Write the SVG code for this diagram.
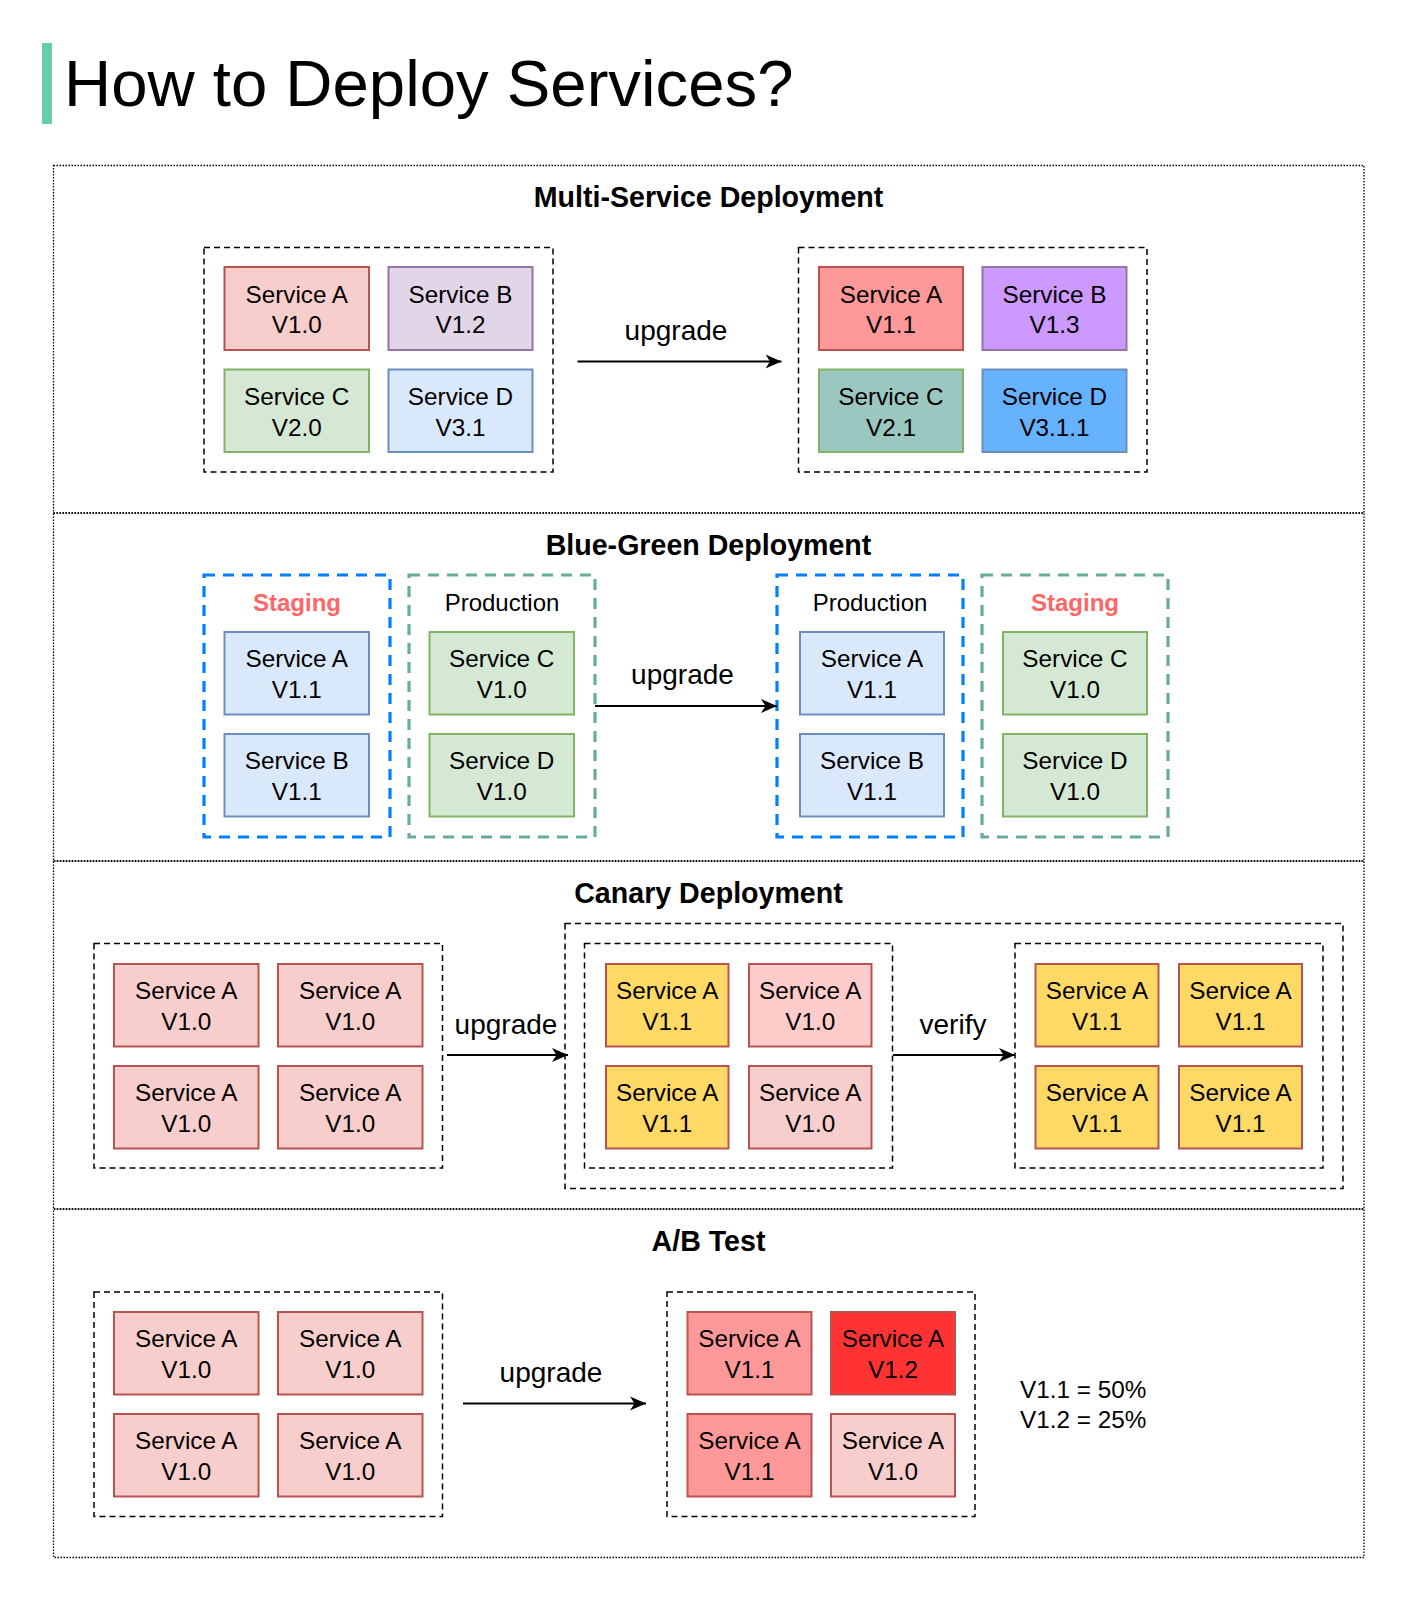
<svg xmlns="http://www.w3.org/2000/svg" width="1406" height="1600" viewBox="0 0 1406 1600">
<defs>
<style>
text{font-family:"Liberation Sans",Arial,Helvetica,sans-serif;fill:#000}
.t{font-size:24.3px;text-anchor:middle}
.lbl{font-size:28px;text-anchor:middle}
.h{font-size:28.6px;font-weight:bold;text-anchor:middle}
.sec{fill:none;stroke:#000;stroke-width:1.3;stroke-dasharray:1.5 1.5}
.grp{fill:none;stroke:#000;stroke-width:1.5;stroke-dasharray:6 4}
.blue{fill:none;stroke:#007FFF;stroke-width:3.2;stroke-dasharray:11 8}
.green{fill:none;stroke:#67AB9F;stroke-width:3.2;stroke-dasharray:11 8}
.b{stroke-width:2}
.ra{fill:#F8CECC;stroke:#B85450}
.ra2{fill:#FF9999;stroke:#B85450}
.ra3{fill:#FF3333;stroke:#B85450}
.ra4{fill:#FFCCCC;stroke:#B85450}
.yl{fill:#FFD966;stroke:#B85450}
.pu{fill:#E1D5E7;stroke:#9673A6}
.pu2{fill:#CC99FF;stroke:#9673A6}
.gr{fill:#D5E8D4;stroke:#82B366}
.gr2{fill:#9AC7BF;stroke:#82B366}
.bl{fill:#DAE8FC;stroke:#6C8EBF}
.bl2{fill:#66B2FF;stroke:#6C8EBF}
.stg{font-size:24px;font-weight:bold;text-anchor:middle;fill:#FF6666}
.prd{font-size:24px;text-anchor:middle}
.edge{fill:none;stroke:#000;stroke-width:2}
</style>
<marker id="arr" markerUnits="userSpaceOnUse" markerWidth="18" markerHeight="16" refX="16" refY="8" orient="auto">
<path d="M0,1 L16,8 L0,15 L4.5,8 Z" fill="#000"/>
</marker>
</defs>
<rect width="1406" height="1600" fill="#fff"/>

<g id="title">
<rect x="42" y="43" width="10" height="81" fill="#67CFA6"/>
<text x="64" y="106" style="font-size:65.3px">How to Deploy Services?</text>
</g>

<g id="sections">
<rect class="sec" x="53.5" y="165.5" width="1310.5" height="347.5"/>
<rect class="sec" x="53.5" y="513" width="1310.5" height="348"/>
<rect class="sec" x="53.5" y="861" width="1310.5" height="348"/>
<rect class="sec" x="53.5" y="1209" width="1310.5" height="348.5"/>
<text class="h" x="708.5" y="207">Multi-Service Deployment</text>
<text class="h" x="708.5" y="555">Blue-Green Deployment</text>
<text class="h" x="708.5" y="903">Canary Deployment</text>
<text class="h" x="708.5" y="1251">A/B Test</text>
</g>

<!-- Section 1 -->
<g id="ms-before">
<rect class="grp" x="204" y="247.5" width="349" height="224.5"/>
<g id="ms-a1"><rect class="b ra" x="224.5" y="267" width="144.5" height="83"/><text class="t" x="296.75" y="302.5">Service A<tspan x="296.75" dy="30.5">V1.0</tspan></text></g>
<g id="ms-b1"><rect class="b pu" x="388.5" y="267" width="144" height="83"/><text class="t" x="460.5" y="302.5">Service B<tspan x="460.5" dy="30.5">V1.2</tspan></text></g>
<g id="ms-c1"><rect class="b gr" x="224.5" y="369.5" width="144.5" height="82.5"/><text class="t" x="296.75" y="405">Service C<tspan x="296.75" dy="30.5">V2.0</tspan></text></g>
<g id="ms-d1"><rect class="b bl" x="388.5" y="369.5" width="144" height="82.5"/><text class="t" x="460.5" y="405">Service D<tspan x="460.5" dy="30.5">V3.1</tspan></text></g>
</g>
<g id="ms-after">
<rect class="grp" x="798.5" y="247.5" width="348.5" height="224.5"/>
<g id="ms-a2"><rect class="b ra2" x="819" y="267" width="144" height="83"/><text class="t" x="891" y="302.5">Service A<tspan x="891" dy="30.5">V1.1</tspan></text></g>
<g id="ms-b2"><rect class="b pu2" x="982.5" y="267" width="144" height="83"/><text class="t" x="1054.5" y="302.5">Service B<tspan x="1054.5" dy="30.5">V1.3</tspan></text></g>
<g id="ms-c2"><rect class="b gr2" x="819" y="369.5" width="144" height="82.5"/><text class="t" x="891" y="405">Service C<tspan x="891" dy="30.5">V2.1</tspan></text></g>
<g id="ms-d2"><rect class="b bl2" x="982.5" y="369.5" width="144" height="82.5"/><text class="t" x="1054.5" y="405">Service D<tspan x="1054.5" dy="30.5">V3.1.1</tspan></text></g>
</g>

<!-- Section 2 -->
<g id="bg-staging1">
<rect class="blue" x="204" y="575" width="186" height="262"/>
<text class="stg" x="297" y="611">Staging</text>
<g id="bg-a1"><rect class="b bl" x="224.5" y="632" width="144.5" height="82.5"/><text class="t" x="296.75" y="667">Service A<tspan x="296.75" dy="30.5">V1.1</tspan></text></g>
<g id="bg-b1"><rect class="b bl" x="224.5" y="734" width="144.5" height="82.5"/><text class="t" x="296.75" y="769">Service B<tspan x="296.75" dy="30.5">V1.1</tspan></text></g>
</g>
<g id="bg-prod1">
<rect class="green" x="409" y="575" width="186" height="262"/>
<text class="prd" x="502" y="611">Production</text>
<g id="bg-c1"><rect class="b gr" x="429.5" y="632" width="144.5" height="82.5"/><text class="t" x="501.75" y="667">Service C<tspan x="501.75" dy="30.5">V1.0</tspan></text></g>
<g id="bg-d1"><rect class="b gr" x="429.5" y="734" width="144.5" height="82.5"/><text class="t" x="501.75" y="769">Service D<tspan x="501.75" dy="30.5">V1.0</tspan></text></g>
</g>
<g id="bg-prod2">
<rect class="blue" x="777" y="575" width="186" height="262"/>
<text class="prd" x="870" y="611">Production</text>
<g id="bg-a2"><rect class="b bl" x="800" y="632" width="144" height="82.5"/><text class="t" x="872" y="667">Service A<tspan x="872" dy="30.5">V1.1</tspan></text></g>
<g id="bg-b2"><rect class="b bl" x="800" y="734" width="144" height="82.5"/><text class="t" x="872" y="769">Service B<tspan x="872" dy="30.5">V1.1</tspan></text></g>
</g>
<g id="bg-staging2">
<rect class="green" x="982" y="575" width="186" height="262"/>
<text class="stg" x="1075" y="611">Staging</text>
<g id="bg-c2"><rect class="b gr" x="1003" y="632" width="144" height="82.5"/><text class="t" x="1075" y="667">Service C<tspan x="1075" dy="30.5">V1.0</tspan></text></g>
<g id="bg-d2"><rect class="b gr" x="1003" y="734" width="144" height="82.5"/><text class="t" x="1075" y="769">Service D<tspan x="1075" dy="30.5">V1.0</tspan></text></g>
</g>

<!-- Section 3 -->
<g id="cn-before">
<rect class="grp" x="94" y="943.5" width="348.5" height="224.5"/>
<g id="cn-1"><rect class="b ra" x="114" y="964" width="144.5" height="82.5"/><text class="t" x="186.25" y="999">Service A<tspan x="186.25" dy="30.5">V1.0</tspan></text></g>
<g id="cn-2"><rect class="b ra" x="278" y="964" width="144.5" height="82.5"/><text class="t" x="350.25" y="999">Service A<tspan x="350.25" dy="30.5">V1.0</tspan></text></g>
<g id="cn-3"><rect class="b ra" x="114" y="1066" width="144.5" height="82.5"/><text class="t" x="186.25" y="1101">Service A<tspan x="186.25" dy="30.5">V1.0</tspan></text></g>
<g id="cn-4"><rect class="b ra" x="278" y="1066" width="144.5" height="82.5"/><text class="t" x="350.25" y="1101">Service A<tspan x="350.25" dy="30.5">V1.0</tspan></text></g>
</g>
<g id="cn-outer">
<rect class="grp" x="565" y="923.5" width="778" height="265"/>
</g>
<g id="cn-mid">
<rect class="grp" x="584.5" y="943.5" width="308" height="224.5"/>
<g id="cn-5"><rect class="b yl" x="606" y="964" width="122.5" height="82.5"/><text class="t" x="667.25" y="999">Service A<tspan x="667.25" dy="30.5">V1.1</tspan></text></g>
<g id="cn-6"><rect class="b ra4" x="749" y="964" width="122.5" height="82.5"/><text class="t" x="810.25" y="999">Service A<tspan x="810.25" dy="30.5">V1.0</tspan></text></g>
<g id="cn-7"><rect class="b yl" x="606" y="1066" width="122.5" height="82.5"/><text class="t" x="667.25" y="1101">Service A<tspan x="667.25" dy="30.5">V1.1</tspan></text></g>
<g id="cn-8"><rect class="b ra" x="749" y="1066" width="122.5" height="82.5"/><text class="t" x="810.25" y="1101">Service A<tspan x="810.25" dy="30.5">V1.0</tspan></text></g>
</g>
<g id="cn-after">
<rect class="grp" x="1015" y="943.5" width="308" height="224.5"/>
<g id="cn-9"><rect class="b yl" x="1035.5" y="964" width="123" height="82.5"/><text class="t" x="1097" y="999">Service A<tspan x="1097" dy="30.5">V1.1</tspan></text></g>
<g id="cn-10"><rect class="b yl" x="1179" y="964" width="123" height="82.5"/><text class="t" x="1240.5" y="999">Service A<tspan x="1240.5" dy="30.5">V1.1</tspan></text></g>
<g id="cn-11"><rect class="b yl" x="1035.5" y="1066" width="123" height="82.5"/><text class="t" x="1097" y="1101">Service A<tspan x="1097" dy="30.5">V1.1</tspan></text></g>
<g id="cn-12"><rect class="b yl" x="1179" y="1066" width="123" height="82.5"/><text class="t" x="1240.5" y="1101">Service A<tspan x="1240.5" dy="30.5">V1.1</tspan></text></g>
</g>

<!-- Section 4 -->
<g id="ab-before">
<rect class="grp" x="94" y="1292" width="348.5" height="224.5"/>
<g id="ab-1"><rect class="b ra" x="114" y="1312" width="144.5" height="82.5"/><text class="t" x="186.25" y="1347">Service A<tspan x="186.25" dy="30.5">V1.0</tspan></text></g>
<g id="ab-2"><rect class="b ra" x="278" y="1312" width="144.5" height="82.5"/><text class="t" x="350.25" y="1347">Service A<tspan x="350.25" dy="30.5">V1.0</tspan></text></g>
<g id="ab-3"><rect class="b ra" x="114" y="1414" width="144.5" height="82.5"/><text class="t" x="186.25" y="1449">Service A<tspan x="186.25" dy="30.5">V1.0</tspan></text></g>
<g id="ab-4"><rect class="b ra" x="278" y="1414" width="144.5" height="82.5"/><text class="t" x="350.25" y="1449">Service A<tspan x="350.25" dy="30.5">V1.0</tspan></text></g>
</g>
<g id="ab-after">
<rect class="grp" x="667" y="1292" width="308" height="224.5"/>
<g id="ab-5"><rect class="b ra2" x="687.5" y="1312" width="124" height="82.5"/><text class="t" x="749.5" y="1347">Service A<tspan x="749.5" dy="30.5">V1.1</tspan></text></g>
<g id="ab-6"><rect class="b ra3" x="831" y="1312" width="124" height="82.5"/><text class="t" x="893" y="1347">Service A<tspan x="893" dy="30.5">V1.2</tspan></text></g>
<g id="ab-7"><rect class="b ra2" x="687.5" y="1414" width="124" height="82.5"/><text class="t" x="749.5" y="1449">Service A<tspan x="749.5" dy="30.5">V1.1</tspan></text></g>
<g id="ab-8"><rect class="b ra" x="831" y="1414" width="124" height="82.5"/><text class="t" x="893" y="1449">Service A<tspan x="893" dy="30.5">V1.0</tspan></text></g>
</g>
<g id="ab-note">
<text x="1020" y="1397.5" style="font-size:24.3px">V1.1 = 50%</text>
<text x="1020" y="1427.5" style="font-size:24.3px">V1.2 = 25%</text>
</g>

<g id="connectors">
<line class="edge" x1="577.5" y1="361.5" x2="781.5" y2="361.5" marker-end="url(#arr)"/>
<text class="lbl" x="676" y="340">upgrade</text>
<line class="edge" x1="595" y1="706" x2="777" y2="706" marker-end="url(#arr)"/>
<text class="lbl" x="682.5" y="684">upgrade</text>
<line class="edge" x1="447" y1="1055" x2="568" y2="1055" marker-end="url(#arr)"/>
<text class="lbl" x="506" y="1034">upgrade</text>
<line class="edge" x1="893" y1="1055" x2="1015" y2="1055" marker-end="url(#arr)"/>
<text class="lbl" x="953" y="1034">verify</text>
<line class="edge" x1="463" y1="1403.5" x2="646" y2="1403.5" marker-end="url(#arr)"/>
<text class="lbl" x="551" y="1382">upgrade</text>
</g>
</svg>
